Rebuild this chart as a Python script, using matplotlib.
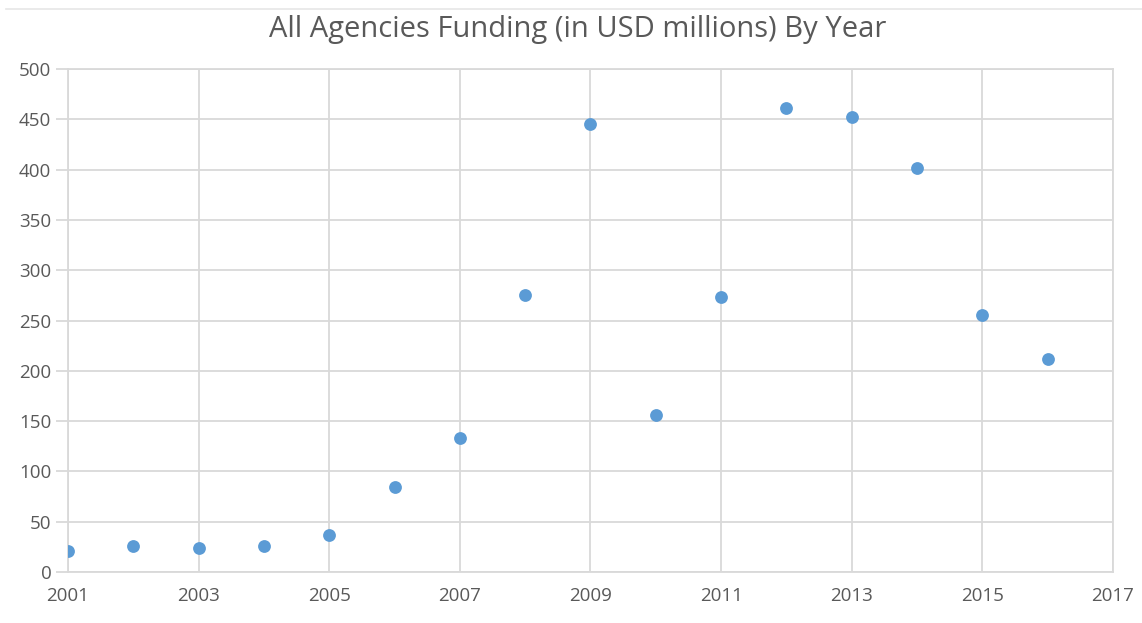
import matplotlib
matplotlib.use("Agg")
import matplotlib.pyplot as plt
from matplotlib.lines import Line2D

years = [2001, 2002, 2003, 2004, 2005, 2006, 2007, 2008,
         2009, 2010, 2011, 2012, 2013, 2014, 2015, 2016]
funding = [21, 26, 24, 26, 37, 84, 133, 275,
           445, 156, 273, 461, 452, 402, 255, 212]
x_ticks = [2001, 2003, 2005, 2007, 2009, 2011, 2013, 2015, 2017]
y_ticks = [0, 50, 100, 150, 200, 250, 300, 350, 400, 450, 500]

plt.rcParams['font.family'] = ['Open Sans', 'DejaVu Sans']

fig = plt.figure(figsize=(11.42, 6.23), dpi=100)
ax = fig.add_axes([0.0595, 0.0819, 0.9151, 0.8073])

grid_col = '#d9d9d9'
text_col = '#595959'

ax.scatter(years, funding, s=85, color='#5b9bd5', zorder=3, linewidths=0)

ax.set_xlim(2001, 2017)
ax.set_ylim(0, 500)
ax.set_xticks(x_ticks)
ax.set_yticks(y_ticks)
ax.grid(True, color=grid_col, linewidth=1.3, zorder=0)

for s in ax.spines.values():
    s.set_color(grid_col)
    s.set_linewidth(1.3)

ax.tick_params(axis='x', length=0, pad=11, labelsize=13.5, labelcolor=text_col)
ax.tick_params(axis='y', length=9, color=grid_col, width=1.3, pad=3,
               labelsize=13.5, labelcolor=text_col)

fig.text(0.506, 0.952, 'All Agencies Funding (in USD millions) By Year',
         ha='center', va='center', fontsize=21, color=text_col)

# thin rule at the top of the chart area
fig.add_artist(Line2D([0.005, 1.0], [0.986, 0.986], color='#e6e6e6',
                      linewidth=1.2, transform=fig.transFigure))

fig.savefig('out.png', dpi=100, facecolor='white')
